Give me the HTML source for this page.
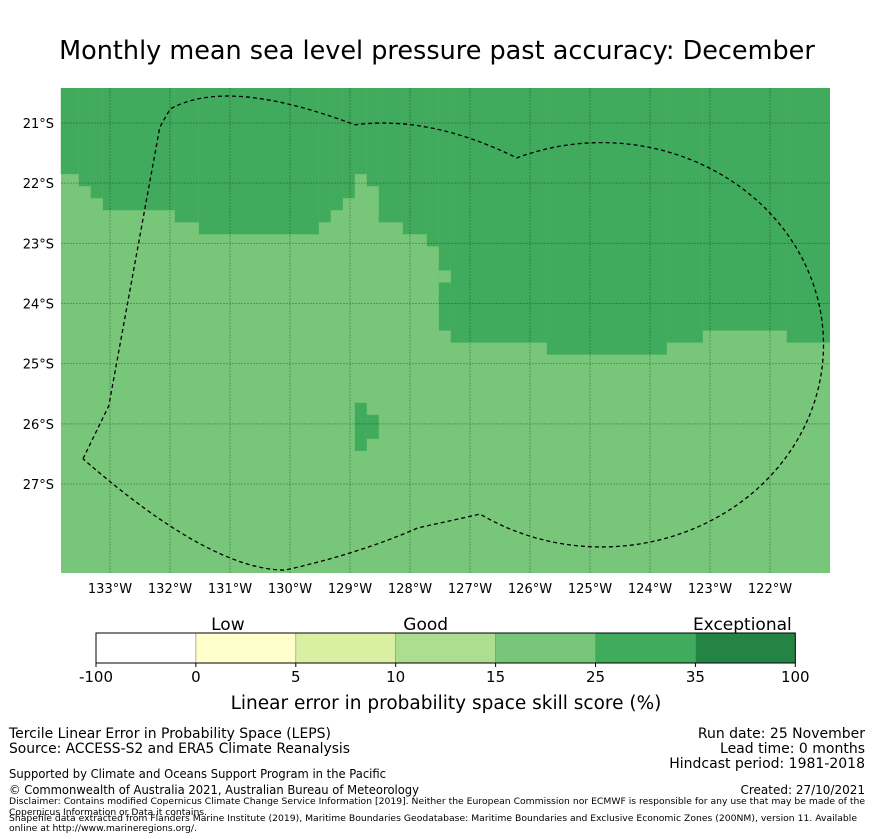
<!DOCTYPE html>
<html><head><meta charset="utf-8"><style>
body{margin:0;background:#fff;}
svg{display:block;font-family:"DejaVu Sans","Liberation Sans",sans-serif;}
</style></head><body>
<svg id="s" width="873" height="839" viewBox="0 0 873 839">
<text x="437" y="59" font-size="25.5" text-anchor="middle">Monthly mean sea level pressure past accuracy: December</text>
<g id="map"></g>
<g id="cb"></g>
<g font-size="14">
<text x="9" y="738" textLength="322" lengthAdjust="spacingAndGlyphs">Tercile Linear Error in Probability Space (LEPS)</text>
<text x="9" y="753" textLength="341" lengthAdjust="spacingAndGlyphs">Source: ACCESS-S2 and ERA5 Climate Reanalysis</text>
<text x="9" y="778" font-size="12" textLength="377" lengthAdjust="spacingAndGlyphs">Supported by Climate and Oceans Support Program in the Pacific</text>
<text x="9" y="794" font-size="12" textLength="410" lengthAdjust="spacingAndGlyphs">© Commonwealth of Australia 2021, Australian Bureau of Meteorology</text>
<text x="9" y="804" font-size="9" textLength="856" lengthAdjust="spacingAndGlyphs">Disclaimer: Contains modified Copernicus Climate Change Service Information [2019]. Neither the European Commission nor ECMWF is responsible for any use that may be made of the</text>
<text x="9" y="815" font-size="9" textLength="198" lengthAdjust="spacingAndGlyphs">Copernicus Information or Data it contains.</text>
<text x="9" y="821" font-size="9" textLength="848" lengthAdjust="spacingAndGlyphs">Shapefile data extracted from Flanders Marine Institute (2019), Maritime Boundaries Geodatabase: Maritime Boundaries and Exclusive Economic Zones (200NM), version 11. Available</text>
<text x="9" y="831" font-size="9" textLength="188" lengthAdjust="spacingAndGlyphs">online at http://www.marineregions.org/.</text>
<g text-anchor="end">
<text x="865" y="738">Run date: 25 November</text>
<text x="865" y="753">Lead time: 0 months</text>
<text x="865" y="768">Hindcast period: 1981-2018</text>
<text x="865" y="794" font-size="12">Created: 27/10/2021</text>
</g></g>
</svg>
<script>
// data
const lonTicks=[133,132,131,130,129,128,127,126,125,124,123,122];
const latTicks=[21,22,23,24,25,26,27];
// dark-region (25-35) bottom latitude by longitude span [lonWest, lonEast, bottomLatS]
const darkBottom=[[133.82,133.52,21.85],[133.52,133.32,22.05],[133.32,133.12,22.25],[133.12,131.92,22.45],[131.92,131.52,22.65],[131.52,129.52,22.85],[129.52,129.32,22.65],[129.32,129.12,22.45],[129.12,128.92,22.25],[128.92,128.72,21.85],[128.72,128.52,22.05],[128.52,128.12,22.65],[128.12,127.72,22.85],[127.72,127.52,23.05],[127.52,127.32,24.45],[127.32,125.72,24.65],[125.72,123.72,24.85],[123.72,123.12,24.65],[123.12,121.72,24.45],[121.72,121.0,24.65]];
const darkPatch=[[128.92,128.72,25.65,26.45],[128.72,128.52,25.85,26.25]];
const lightNotch=[[127.52,127.32,23.45,23.65]];
// EEZ vertices [lonW, latS]
const eez=[[133.45,26.58],[133.02,25.70],[132.17,21.07],[132.0,20.77],[128.92,21.03],[126.22,21.58],[126.83,27.5],[127.87,27.73],[130.08,28.43],[133.45,26.58]];
const eezCtrl=[[131.05,20.23],[127.67,20.87],[128.83,28.15],[131.33,28.43]];
const eezCircle=[124.77,24.69,3.7,3.36]; // center lon, lat, radius lon-deg, lat-deg
const cbBounds=["-100","0","5","10","15","25","35","100"];
const cbColors=["#ffffff","#ffffcc","#d9f0a3","#addd8e","#78c679","#41ab5d","#238443"];
const cbCats=[["Low",1.32],["Good",3.3],["Exceptional",6.47]];

const NS="http://www.w3.org/2000/svg";
const X0=61,X1=830,Y0=88,Y1=573;
const xs=lon=>110+(133-lon)*60;
const ys=lat=>123+(lat-21)*60.17;
function mk(tag,at,parent){const e=document.createElementNS(NS,tag);for(const k in at)e.setAttribute(k,at[k]);parent.appendChild(e);return e;}
const map=document.getElementById('map');
const bg=mk('rect',{x:X0,y:Y0,width:X1-X0,height:Y1-Y0,fill:'#78c679'},map);


darkBottom.forEach(d=>{const r=mk('rect',{x:xs(d[0]),y:Y0,width:xs(d[1])-xs(d[0]),height:ys(d[2])-Y0,fill:'#41ab5d'},map);

});
darkPatch.forEach(d=>{const r=mk('rect',{x:xs(d[0]),y:ys(d[2]),width:xs(d[1])-xs(d[0]),height:ys(d[3])-ys(d[2]),fill:'#41ab5d'},map);

});
lightNotch.forEach(d=>{const r=mk('rect',{x:xs(d[0]),y:ys(d[2]),width:xs(d[1])-xs(d[0]),height:ys(d[3])-ys(d[2]),fill:'#78c679'},map);

});
lonTicks.forEach(l=>{const x=xs(l);
const g=mk('line',{x1:x,x2:x,y1:Y0,y2:Y1,stroke:'#000','stroke-opacity':0.25,'stroke-width':1,'stroke-dasharray':'2,1'},map);


const t=mk('text',{x:x,y:593,'font-size':13,'text-anchor':'middle'},map);t.textContent=l+'°W';

});
latTicks.forEach(l=>{const y=ys(l);
const g=mk('line',{x1:X0,x2:X1,y1:y,y2:y,stroke:'#000','stroke-opacity':0.25,'stroke-width':1,'stroke-dasharray':'2,1'},map);


const t=mk('text',{x:54,y:y+5,'font-size':13,'text-anchor':'end'},map);t.textContent=l+'°S';

});
const P=q=>xs(q[0])+','+ys(q[1]);
const rx=eezCircle[2]*60, ry=eezCircle[3]*60.17;
let d='M'+P(eez[0])+' L'+P(eez[1])+' L'+P(eez[2])+' L'+P(eez[3]);
d+=' Q'+P(eezCtrl[0])+' '+P(eez[4]);
d+=' Q'+P(eezCtrl[1])+' '+P(eez[5]);
d+=' A'+rx+' '+ry+' 0 1 1 '+P(eez[6]);
d+=' L'+P(eez[7]);
d+=' Q'+P(eezCtrl[2])+' '+P(eez[8]);
d+=' Q'+P(eezCtrl[3])+' '+P(eez[9]);
const e=mk('path',{d:d,fill:'none',stroke:'#000','stroke-width':1.3,'stroke-dasharray':'4,3'},map);


// colorbar
const cb=document.getElementById('cb');
const CX0=96,CW=99.9,CY=633,CH=30;
cbColors.forEach((c,i)=>{const r=mk('rect',{x:CX0+i*CW,y:CY,width:CW,height:CH,fill:c,stroke:'#888','stroke-width':0.6},cb);

});
const fr=mk('rect',{x:CX0,y:CY,width:CW*7,height:CH,fill:'none',stroke:'#000','stroke-width':1},cb);


cbBounds.forEach((b,i)=>{const x=CX0+i*CW;
const tk=mk('line',{x1:x,x2:x,y1:CY+CH,y2:CY+CH+4,stroke:'#000'},cb);


const t=mk('text',{x:x,y:682,'font-size':15,'text-anchor':'middle'},cb);t.textContent=b;

});
cbCats.forEach(c=>{const t=mk('text',{x:CX0+c[1]*CW,y:630,'font-size':17,'text-anchor':'middle'},cb);t.textContent=c[0];

});
const ct=mk('text',{x:446,y:709,'font-size':18.5,'text-anchor':'middle'},cb);ct.textContent='Linear error in probability space skill score (%)';


</script>
</body></html>
